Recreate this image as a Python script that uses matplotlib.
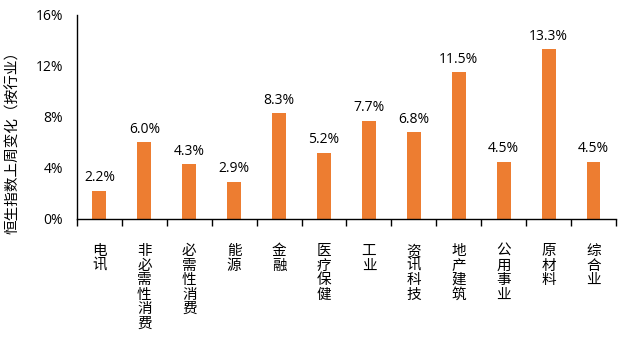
import numpy as np
import matplotlib
matplotlib.use("Agg")
import matplotlib.pyplot as plt
from matplotlib.ticker import FuncFormatter, FixedLocator

plt.rcParams["font.family"] = ["Open Sans", "Noto Sans CJK SC", "DejaVu Sans"]

sectors = ["电讯", "非必需性消费", "必需性消费", "能源", "金融", "医疗保健",
           "工业", "资讯科技", "地产建筑", "公用事业", "原材料", "综合业"]
weekly_change = [2.2, 6.0, 4.3, 2.9, 8.3, 5.2, 7.7, 6.8, 11.5, 4.5, 13.3, 4.5]

bar_color = "#ED7D31"

fig = plt.figure(figsize=(6.26, 3.4), dpi=100)
ax = fig.add_axes([0.123, 0.356, 0.861, 0.600])

x = np.arange(len(sectors))
ax.bar(x, weekly_change, width=0.31, color=bar_color, zorder=2)

for xi, v in zip(x, weekly_change):
    ax.annotate(f"{v:.1f}%", (xi, v), xytext=(0, 4), textcoords="offset points",
                ha="center", va="bottom", fontsize=10, color="#000000")

ax.set_xlim(-0.5, len(sectors) - 0.5)
ax.set_ylim(0, 16)
ax.set_yticks([0, 4, 8, 12, 16])
ax.yaxis.set_major_formatter(FuncFormatter(lambda v, _: f"{v:.0f}%"))
ax.tick_params(axis="y", length=0, pad=10, labelsize=10)

ax.set_xticks(x)
ax.set_xticklabels(["\n".join(s) for s in sectors], fontsize=10.5,
                   linespacing=1.05, va="top", family="Noto Sans CJK SC")
ax.tick_params(axis="x", which="major", length=0, pad=18)
ax.xaxis.set_minor_locator(FixedLocator(np.arange(-0.5, len(sectors), 1.0)))
ax.tick_params(axis="x", which="minor", length=5, width=1, direction="out")

for side in ("top", "right"):
    ax.spines[side].set_visible(False)
ax.spines["left"].set_linewidth(1)
ax.spines["bottom"].set_linewidth(1)

ax.set_ylabel("恒生指数上周变化（按行业）", fontsize=10.5,
              family="Noto Sans CJK SC")
ax.yaxis.set_label_coords(-0.105, 0.39)

fig.savefig("out.png", dpi=100)
